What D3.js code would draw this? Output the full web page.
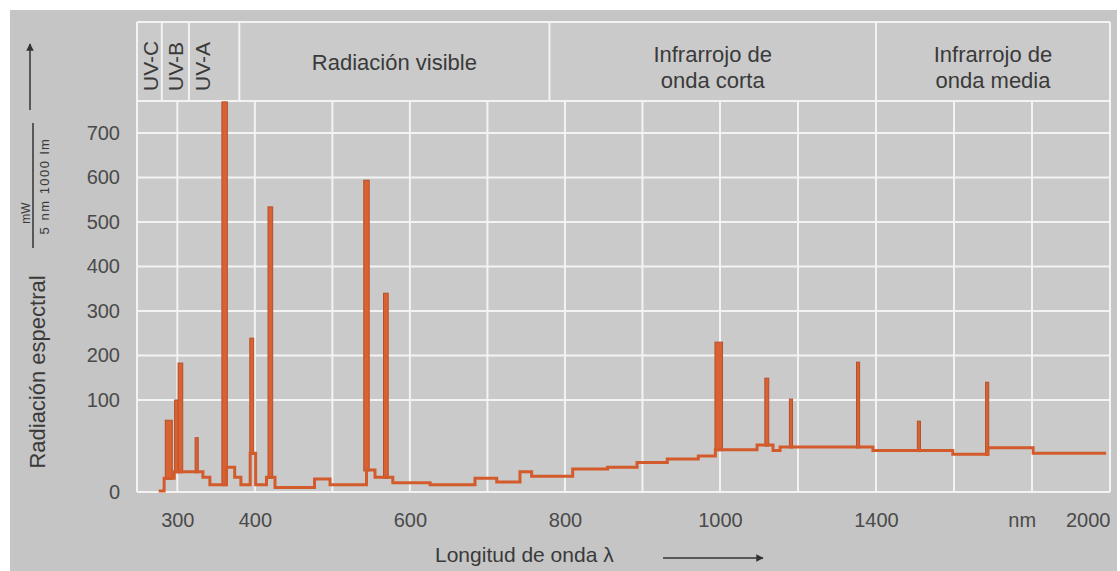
<!DOCTYPE html>
<html>
<head>
<meta charset="utf-8">
<script src="https://cdn.jsdelivr.net/npm/d3@7"></script>
<style>
  body { margin: 0; background: #fff; }
  svg text { font-family: "Liberation Sans", Arial, sans-serif; }
</style>
</head>
<body>
<div id="vis"></div>
<script>
(function () {
  'use strict';

  // continuum of the spectrum, as steps: start of each step (nm) and its level
  var contNm  = [276, 283, 296, 333, 342, 363, 374, 382, 394, 401, 415, 426, 477, 497, 544, 555, 578, 626,
                 684, 712, 742, 757, 810, 855, 893, 932, 972, 994, 1018, 1095, 1136, 1154, 1392, 1597, 1687, 1803, 1990];
  var contVal = [1, 15, 22, 16, 8, 27, 16, 8, 42, 8, 16, 5, 14, 8, 24, 16, 10, 8,
                 15, 11, 22, 17, 25, 27, 32, 36, 39, 46, 46, 51, 45, 49, 45, 41, 48, 42, 42];

  // emission lines: centre (nm), peak level, width of the line (nm)
  var lineNm    = [289, 299, 304, 325, 361, 396, 420, 544, 569, 1000, 1120, 1182, 1354, 1510, 1685];
  var linePeak  = [78, 100, 183, 59, 770, 239, 534, 594, 340, 230, 149, 102, 185, 77, 140];
  var lineWidth = [9, 5, 6, 4, 7, 5, 6, 7, 6, 13, 10, 8, 8, 8, 8];

  // spectral regions
  var bandEdges  = [248, 280, 315, 380, 780, 1400, 2000];
  var bandLabels = [['UV-C'], ['UV-B'], ['UV-A'], ['Radiación visible'],
                    ['Infrarrojo de', 'onda corta'], ['Infrarrojo de', 'onda media']];

  var xTicks = [300, 400, 600, 800, 1000, 1400, 2000];
  var xGrid  = [300, 400, 500, 600, 700, 800, 900, 1000, 1200, 1400, 1600, 1800];
  var yTicks = [0, 100, 200, 300, 400, 500, 600, 700];

  var WIDTH = 1120;
  var HEIGHT = 571;
  var LEFT = 137, RIGHT = 1110, TOP = 22, BAND_BOTTOM = 101, BOTTOM = 492;
  var LINE_COLOR = '#d35a2b';
  var TEXT_COLOR = '#3a3a3a';

  // both axes of the original drawing are broken: 100 nm steps up to 1000 nm, 200 nm after,
  // and the first 100 units of the y axis are stretched
  var x = d3.scaleLinear().domain([248, 1000, 2000]).range([LEFT, 720, RIGHT]);
  var y = d3.scaleLinear().domain([0, 100, 772]).range([BOTTOM, 400, BAND_BOTTOM]);

  var svg = d3.select('#vis').append('svg')
    .attr('width', WIDTH)
    .attr('height', HEIGHT);

  var defs = svg.append('defs');
  defs.append('marker')
    .attr('id', 'arrow')
    .attr('viewBox', '0 0 10 10')
    .attr('refX', 9).attr('refY', 5)
    .attr('markerWidth', 5).attr('markerHeight', 5)
    .attr('orient', 'auto')
    .append('path')
    .attr('d', 'M0,0L10,5L0,10z')
    .attr('fill', '#333');

  // paper
  svg.append('rect')
    .attr('x', 10).attr('y', 10)
    .attr('width', 1107).attr('height', HEIGHT - 10)
    .attr('fill', '#c5c5c5');
  svg.append('rect')
    .attr('x', LEFT).attr('y', TOP)
    .attr('width', RIGHT - LEFT).attr('height', BOTTOM - TOP)
    .attr('fill', '#cacaca');

  var grid = svg.append('g')
    .attr('stroke', '#f3f3f3')
    .attr('stroke-width', 2);

  grid.selectAll('.vgrid')
    .data(xGrid)
    .enter().append('line')
    .attr('x1', function (d) { return x(d); })
    .attr('x2', function (d) { return x(d); })
    .attr('y1', BAND_BOTTOM)
    .attr('y2', BOTTOM);

  grid.selectAll('.hgrid')
    .data(yTicks.concat([772]))
    .enter().append('line')
    .attr('x1', LEFT)
    .attr('x2', RIGHT)
    .attr('y1', function (d) { return y(d); })
    .attr('y2', function (d) { return y(d); });

  // region band frame
  grid.append('line')
    .attr('x1', LEFT).attr('x2', RIGHT)
    .attr('y1', TOP).attr('y2', TOP);
  grid.selectAll('.bandEdge')
    .data(bandEdges)
    .enter().append('line')
    .attr('x1', function (d) { return x(d); })
    .attr('x2', function (d) { return x(d); })
    .attr('y1', TOP)
    .attr('y2', function (d, i) { return (i === 0 || i === bandEdges.length - 1) ? BOTTOM : BAND_BOTTOM; });

  // region labels
  var bands = svg.append('g')
    .attr('fill', TEXT_COLOR)
    .attr('font-size', 22);
  bandLabels.forEach(function (lines, i) {
    var x0 = x(bandEdges[i]);
    var x1 = x(bandEdges[i + 1]);
    if (i < 3) {
      bands.append('text')
        .attr('transform', 'translate(' + (x0 + 21) + ',' + (BAND_BOTTOM - 10) + ') rotate(-90)')
        .attr('font-size', 21)
        .text(lines[0]);
      return;
    }
    var base = lines.length === 1 ? 70 : 62;
    lines.forEach(function (t, j) {
      bands.append('text')
        .attr('x', (x0 + x1) / 2)
        .attr('y', base + j * 26)
        .attr('text-anchor', 'middle')
        .text(t);
    });
  });

  // spectrum
  function levelAt (nm) {
    var i = d3.bisectRight(contNm, nm) - 1;
    return contVal[Math.max(0, i)];
  }

  var lines = lineNm.map(function (nm, i) {
    return { nm: nm, peak: linePeak[i], width: lineWidth[i], base: levelAt(nm) };
  });

  svg.append('g').selectAll('rect')
    .data(lines)
    .enter().append('rect')
    .attr('x', function (d) { return x(d.nm - d.width / 2); })
    .attr('width', function (d) { return Math.max(3, x(d.nm + d.width / 2) - x(d.nm - d.width / 2)); })
    .attr('y', function (d) { return y(d.peak); })
    .attr('height', function (d) { return y(d.base) - y(d.peak) + 1; })
    .attr('fill', '#da6232')
    .attr('stroke', '#b4502c')
    .attr('stroke-width', 1);

  var steps = contNm.map(function (nm, i) { return [nm, contVal[i]]; });
  svg.append('path')
    .datum(steps)
    .attr('fill', 'none')
    .attr('stroke', LINE_COLOR)
    .attr('stroke-width', 3)
    .attr('d', d3.line()
      .curve(d3.curveStepAfter)
      .x(function (d) { return x(d[0]); })
      .y(function (d) { return y(d[1]); }));

  // axes
  var yAxis = svg.append('g')
    .attr('transform', 'translate(122,0)')
    .call(d3.axisLeft(y).tickValues(yTicks).tickFormat(d3.format('d')).tickSize(0).tickPadding(2));
  yAxis.select('.domain').remove();
  yAxis.selectAll('text')
    .attr('font-size', 20)
    .attr('fill', '#4a4a4a')
    .attr('font-family', '"Liberation Sans", Arial, sans-serif');

  var xAxis = svg.append('g')
    .attr('transform', 'translate(0,' + BOTTOM + ')')
    .call(d3.axisBottom(x).tickValues(xTicks).tickFormat(d3.format('d')).tickSize(0).tickPadding(21));
  xAxis.select('.domain').remove();
  xAxis.selectAll('text')
    .attr('font-size', 20)
    .attr('fill', '#4a4a4a')
    .attr('font-family', '"Liberation Sans", Arial, sans-serif')
    .attr('text-anchor', function (d) { return d === 2000 ? 'end' : 'middle'; });

  svg.append('text')
    .attr('x', x(1775))
    .attr('y', 527)
    .attr('text-anchor', 'middle')
    .attr('font-size', 20)
    .attr('fill', '#4a4a4a')
    .text('nm');

  // axis titles
  svg.append('text')
    .attr('transform', 'translate(45,372) rotate(-90)')
    .attr('text-anchor', 'middle')
    .attr('font-size', 22)
    .attr('fill', TEXT_COLOR)
    .text('Radiación espectral');

  svg.append('text')
    .attr('transform', 'translate(30,213) rotate(-90)')
    .attr('text-anchor', 'middle')
    .attr('font-size', 12)
    .attr('fill', TEXT_COLOR)
    .text('mW');
  svg.append('line')
    .attr('x1', 33).attr('x2', 33)
    .attr('y1', 123).attr('y2', 248)
    .attr('stroke', '#333').attr('stroke-width', 1.5);
  svg.append('text')
    .attr('transform', 'translate(49,186) rotate(-90)')
    .attr('text-anchor', 'middle')
    .attr('font-size', 13)
    .attr('letter-spacing', 1.5)
    .attr('fill', TEXT_COLOR)
    .text('5 nm  1000 lm');

  svg.append('line')
    .attr('x1', 30).attr('x2', 30)
    .attr('y1', 110).attr('y2', 44)
    .attr('stroke', '#333').attr('stroke-width', 1.5)
    .attr('marker-end', 'url(#arrow)');

  svg.append('text')
    .attr('x', 435)
    .attr('y', 562)
    .attr('font-size', 21)
    .attr('fill', TEXT_COLOR)
    .text('Longitud de onda λ');

  svg.append('line')
    .attr('x1', 663).attr('x2', 763)
    .attr('y1', 558).attr('y2', 558)
    .attr('stroke', '#333').attr('stroke-width', 1.5)
    .attr('marker-end', 'url(#arrow)');
})();
</script>
</body>
</html>
